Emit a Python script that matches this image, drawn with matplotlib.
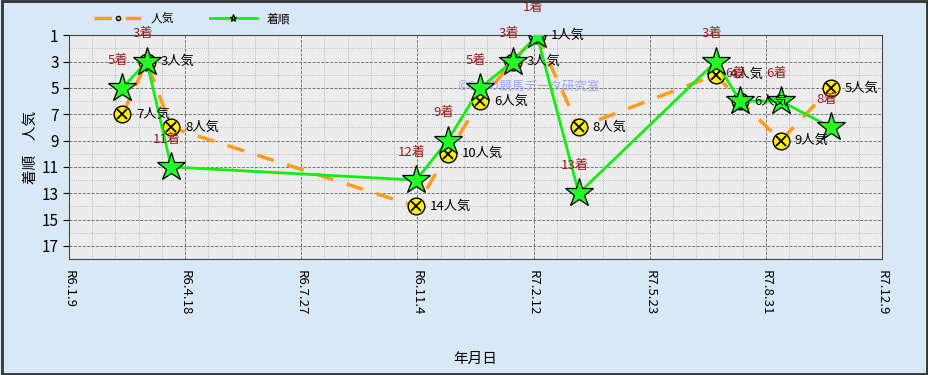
import numpy as np
import matplotlib
matplotlib.use("Agg")
import matplotlib.pyplot as plt
from matplotlib.patches import Rectangle

plt.rcParams['font.family'] = ['Noto Sans CJK JP', 'DejaVu Sans']

# race data
race_dates = ['2024-02-24', '2024-03-16', '2024-04-06', '2024-11-03', '2024-11-30',
              '2024-12-28', '2025-01-25', '2025-02-15', '2025-03-23', '2025-07-19',
              '2025-08-09', '2025-09-13', '2025-10-26']
finish = [5, 3, 11, 12, 9, 5, 3, 1, 13, 3, 6, 6, 8]       # 着順
popularity = [7, 3, 8, 14, 10, 6, 3, 1, 8, 4, 6, 9, 5]    # 人気
tick_dates = ['2024-01-09', '2024-04-18', '2024-07-27', '2024-11-04',
              '2025-02-12', '2025-05-23', '2025-08-31', '2025-12-09']
tick_labels = ['R6.1.9', 'R6.4.18', 'R6.7.27', 'R6.11.4',
               'R7.2.12', 'R7.5.23', 'R7.8.31', 'R7.12.9']

x = np.array(race_dates, dtype='datetime64[D]')
xt = np.array(tick_dates, dtype='datetime64[D]')

fig = plt.figure(figsize=(9.29, 3.75), dpi=100, facecolor='#d9e8f7')
ax = fig.add_axes([0.0743, 0.309, 0.875, 0.597])
ax.set_facecolor('#ececec')

# popularity series (orange dashed, circled x)
ax.plot(x, popularity, color='#ff9a1a', lw=2.5, ls=(0, (5, 4)), zorder=3, label='人気',
        marker='o', ms=12, mfc='#ffee00', mec='black', mew=1)
ax.plot(x, popularity, ls='none', marker='x', ms=7, color='black', mew=1.3, zorder=4)

# finish series (green, stars)
ax.plot(x, finish, color='#11ee11', lw=2, zorder=5, label='着順',
        marker='*', ms=21, mfc='#22ff22', mec='black', mew=0.9)

for xi, f, p in zip(x, finish, popularity):
    ax.annotate('%d着' % f, (xi, f), xytext=(-3, 20), textcoords='offset points',
                ha='center', va='center', color='#9b1c1c', fontsize=9.5, zorder=6)
    ax.annotate('%d人気' % p, (xi, p), xytext=(10, 0), textcoords='offset points',
                ha='left', va='center', color='black', fontsize=9.5, zorder=6)

ax.text(0.565, 0.77, '©Cmの競馬データ研究室', transform=ax.transAxes, ha='center',
        va='center', color='#8f9cf5', fontsize=9, alpha=0.85, zorder=2)

ax.set_xlim(xt[0], xt[-1])
ax.set_ylim(18, 1)
ax.set_xticks(xt)
ax.set_xticklabels(tick_labels, rotation=270, fontsize=9.5)
ax.set_xticks(np.arange(xt[0], xt[-1], np.timedelta64(20, 'D')), minor=True)
ax.set_yticks(np.arange(1, 18, 2))
ax.set_yticks(np.arange(2, 19, 2), minor=True)
ax.tick_params(axis='y', labelsize=11, length=4)
ax.tick_params(axis='x', length=0, pad=8)
ax.tick_params(which='minor', length=0)
ax.grid(which='major', axis='both', color='#666666', ls='--', lw=0.6)
ax.grid(which='minor', axis='both', color='#aaaaaa', ls=':', lw=0.6)
for s in ax.spines.values():
    s.set_color('#444444')

ax.set_ylabel('着順　人気', fontsize=10.5, labelpad=3)
ax.set_xlabel('年月日', fontsize=10.5, labelpad=26)

fig.legend(loc='upper left', bbox_to_anchor=(0.09, 0.995), ncol=2, frameon=False,
           fontsize=8.5, markerscale=0.25, handlelength=4, columnspacing=3)

fig.patches.append(Rectangle((0.002, 0.003), 0.996, 0.994, transform=fig.transFigure,
                             fill=False, edgecolor='#333333', lw=2))

fig.savefig('out.png', dpi=100, facecolor=fig.get_facecolor())
